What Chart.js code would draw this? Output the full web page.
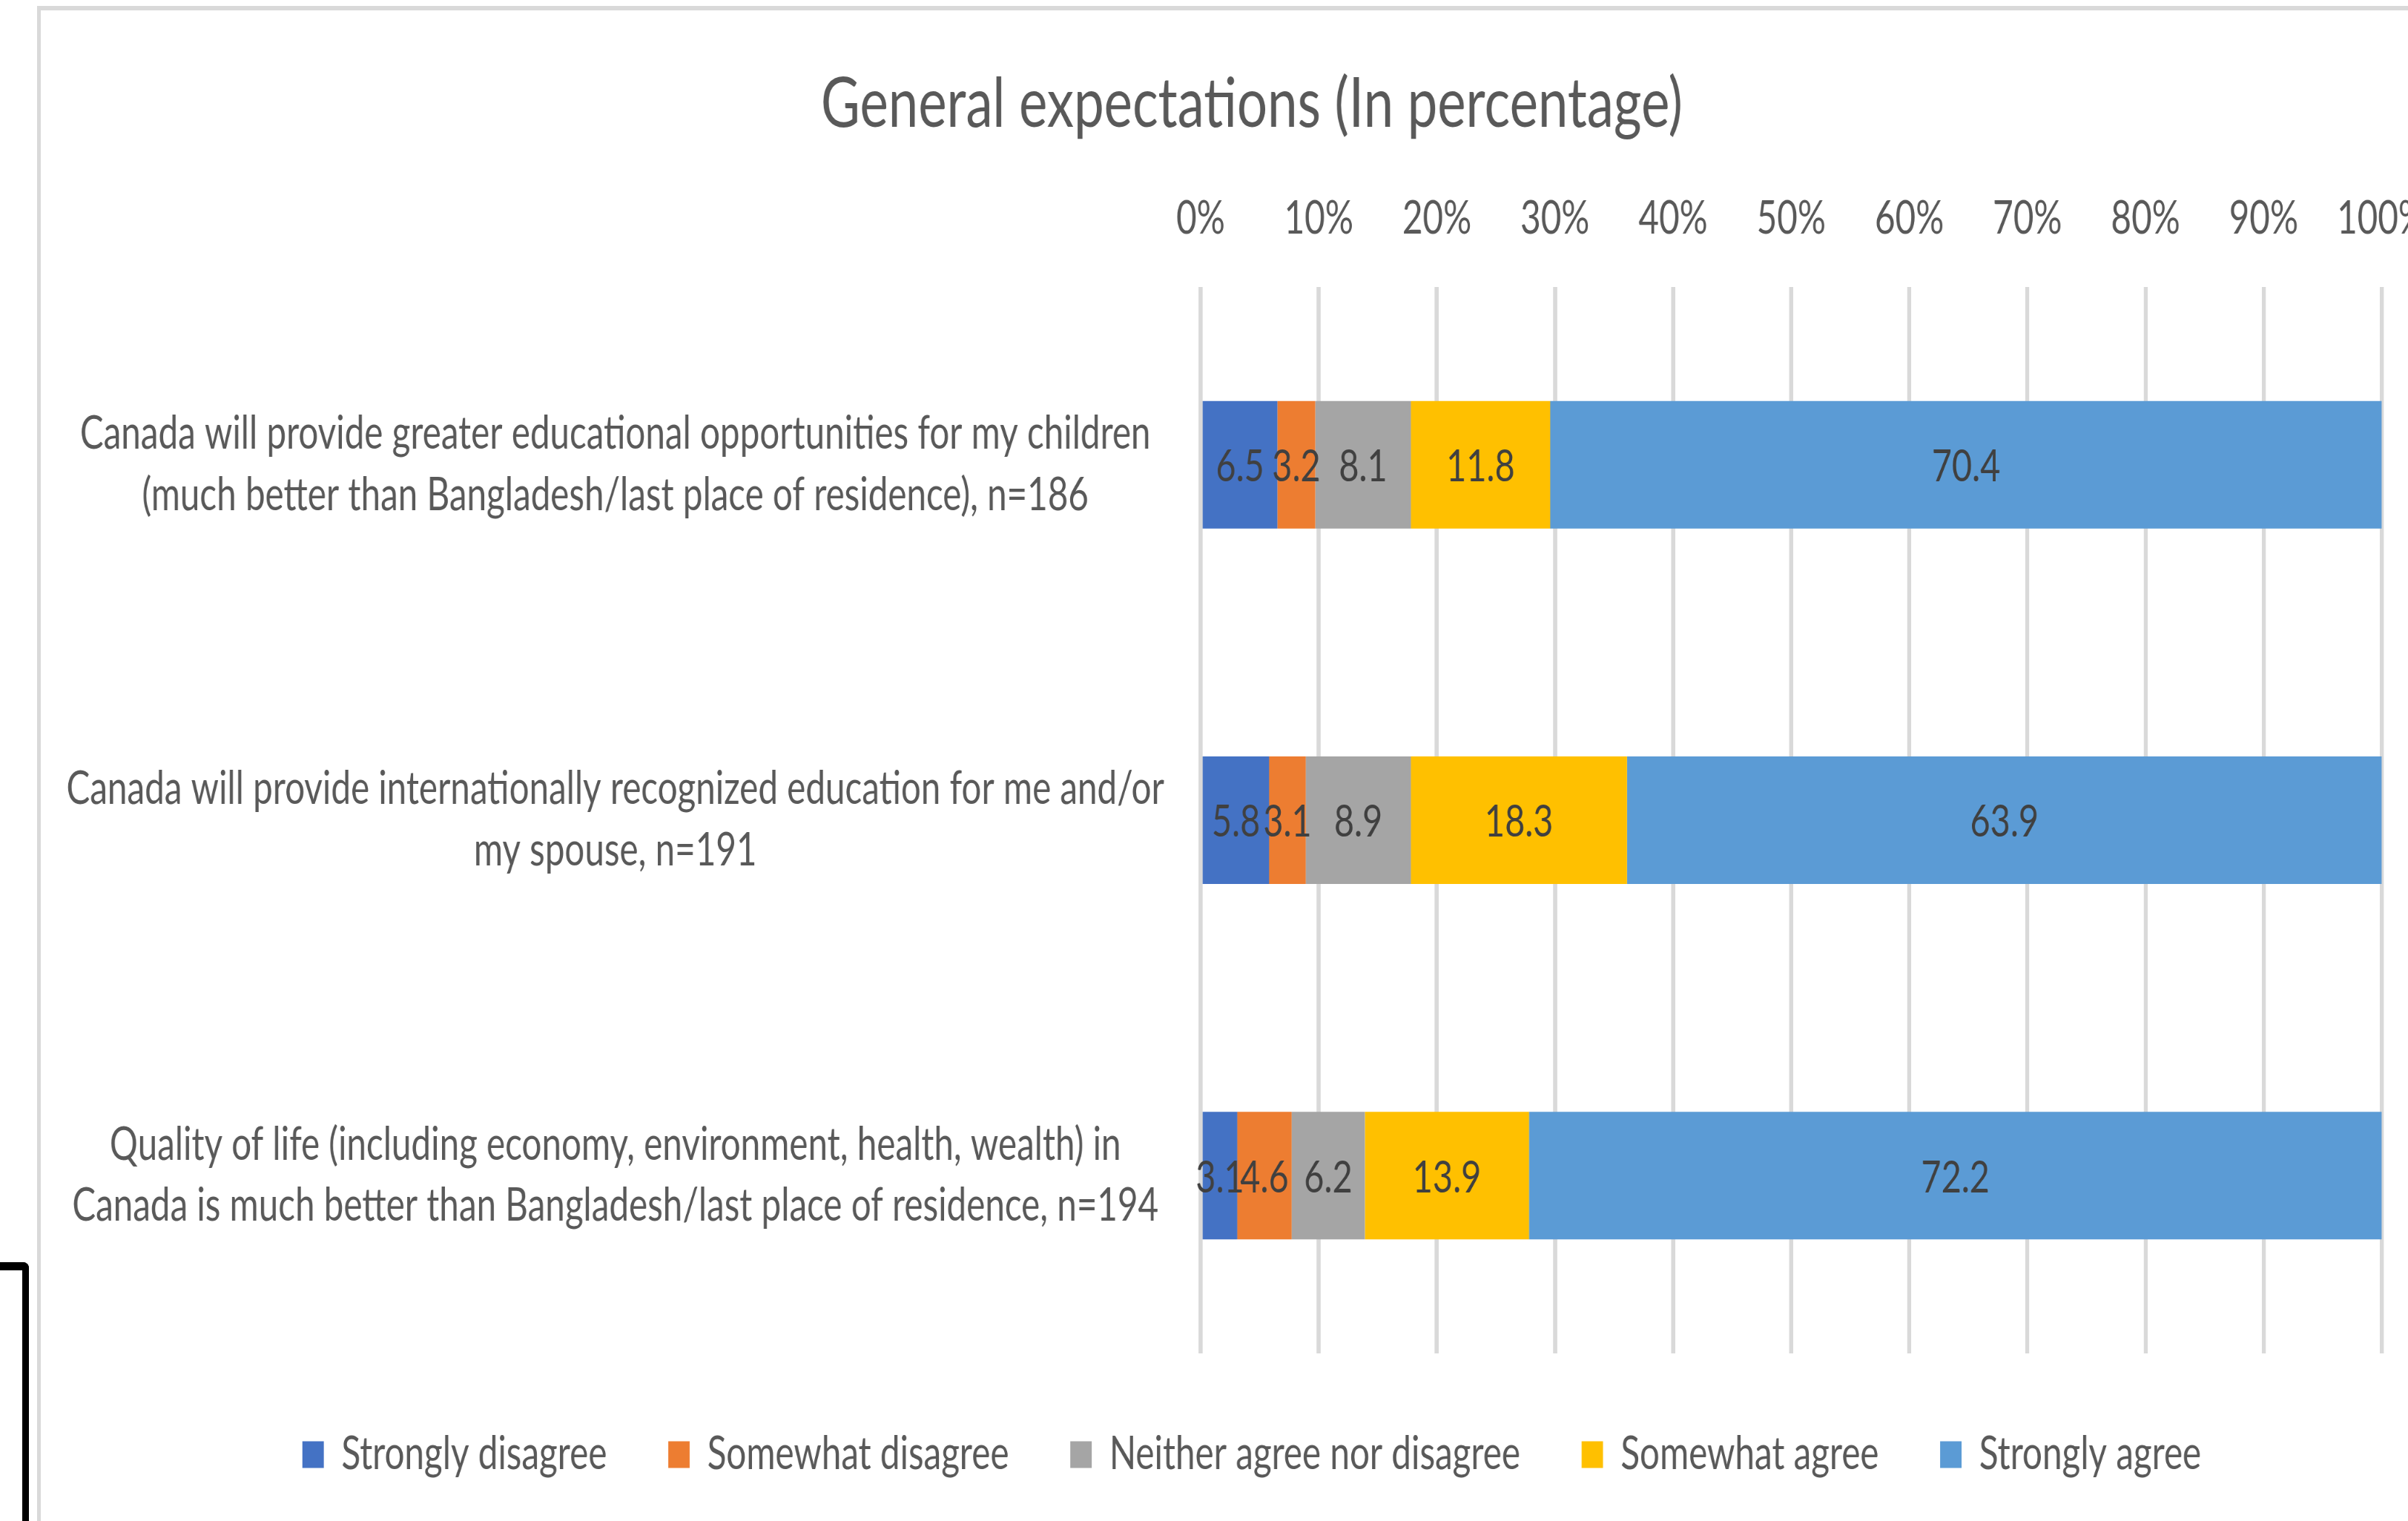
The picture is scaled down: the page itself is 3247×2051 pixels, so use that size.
<!DOCTYPE html>
<html><head><meta charset="utf-8">
<script src="https://cdn.jsdelivr.net/npm/chart.js@4"></script>
<style>
html,body{margin:0;padding:0;background:#fff;overflow:hidden;width:3247px;height:2051px;}
#wrap{position:absolute;left:0;top:0;width:3247px;height:2051px;overflow:hidden;background:#fff;}
#frame{position:absolute;left:50px;top:8px;width:4000px;height:3000px;border-left:5px solid #d9d9d9;border-top:6px solid #d9d9d9;pointer-events:none;}
#c{position:absolute;left:0;top:0;}
#bracket{position:absolute;left:-20px;top:1702px;width:50px;height:500px;border-top:11px solid #000;border-right:9px solid #000;border-top-right-radius:8px;pointer-events:none;}
</style></head>
<body><div id="wrap"><div id="frame"></div><canvas id="c" width="4250" height="2051" style="width:3315px;height:2051px"></canvas><div id="bracket"></div></div>
<script>
const chartTitle = "General expectations (In percentage)";
const categories = [
  ["Canada will provide greater educational opportunities for my children", "(much better than Bangladesh/last place of residence), n=186"],
  ["Canada will provide internationally recognized education for me and/or", "my spouse, n=191"],
  ["Quality of life (including economy, environment, health, wealth) in", "Canada is much better than Bangladesh/last place of residence, n=194"]
];
const seriesNames = ["Strongly disagree", "Somewhat disagree", "Neither agree nor disagree", "Somewhat agree", "Strongly agree"];
const stronglyDisagree = [6.5, 5.8, 3.1];
const somewhatDisagree = [3.2, 3.1, 4.6];
const neitherAgreeNorDisagree = [8.1, 8.9, 6.2];
const somewhatAgree = [11.8, 18.3, 13.9];
const stronglyAgree = [70.4, 63.9, 72.2];
const xTickLabels = ["0%", "10%", "20%", "30%", "40%", "50%", "60%", "70%", "80%", "90%", "100%"];
const seriesColors = ["#4472C4", "#ED7D31", "#A5A5A5", "#FFC000", "#5B9BD5"];

const FONT = "Lato, 'Open Sans', sans-serif";
const seriesValues = [stronglyDisagree, somewhatDisagree, neitherAgreeNorDisagree, somewhatAgree, stronglyAgree];

const valueLabels = {
  id: 'valueLabels',
  afterDatasetsDraw(chart) {
    const ctx = chart.ctx;
    ctx.save();
    ctx.font = "60px " + FONT;
    ctx.fillStyle = '#404040';
    ctx.textAlign = 'center';
    ctx.textBaseline = 'middle';
    chart.data.datasets.forEach((ds, di) => {
      chart.getDatasetMeta(di).data.forEach((el, i) => {
        ctx.fillText(ds.data[i].toFixed(1), (el.x + el.base) / 2, el.y + 3);
      });
    });
    ctx.restore();
  }
};

new Chart(document.getElementById('c'), {
  type: 'bar',
  data: {
    labels: categories,
    datasets: seriesNames.map((name, i) => ({
      label: name,
      data: seriesValues[i],
      backgroundColor: seriesColors[i],
      borderWidth: 0,
      barPercentage: 0.359,
      categoryPercentage: 1
    }))
  },
  plugins: [valueLabels],
  options: {
    indexAxis: 'y',
    responsive: false,
    animation: false,
    devicePixelRatio: 1,
    layout: { padding: { left: 78, right: 0, top: 0, bottom: 49 } },
    plugins: {
      title: {
        display: true, text: chartTitle, color: '#595959',
        font: { family: FONT, size: 93, weight: 'normal' },
        padding: { top: 85.2, bottom: 7.0 }
      },
      legend: {
        position: 'bottom',
        labels: { color: '#595959', font: { family: FONT, size: 61 }, boxWidth: 37, boxHeight: 36, padding: 106 }
      },
      tooltip: { enabled: false }
    },
    scales: {
      x: {
        position: 'top', stacked: true, min: 0, max: 100,
        ticks: { stepSize: 10, padding: 55, color: '#595959', maxRotation: 0, autoSkip: false,
                 font: { family: FONT, size: 61 },
                 callback: (v, i) => xTickLabels[i] },
        grid: { color: '#d9d9d9', lineWidth: 7, drawTicks: false },
        border: { display: false }
      },
      y: {
        stacked: true,
        ticks: { crossAlign: 'center', padding: 63, color: '#595959', autoSkip: false,
                 font: { family: FONT, size: 61, lineHeight: 1.36 } },
        grid: { display: false, drawTicks: false },
        border: { display: false },
        afterFit(scale) { scale.width = 1997.6; }
      }
    }
  }
});
</script>
</body></html>
